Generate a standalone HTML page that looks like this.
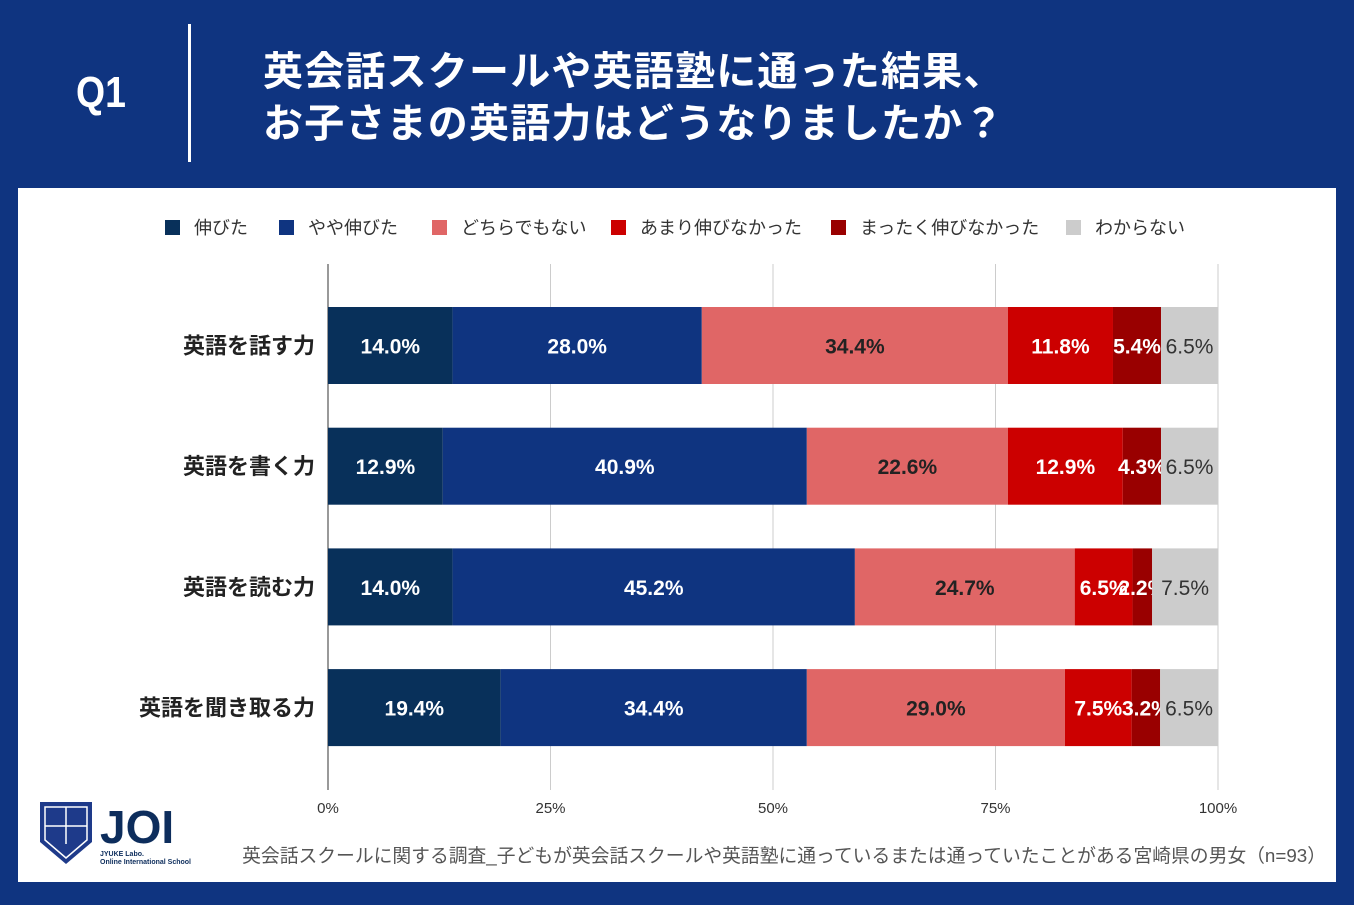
<!DOCTYPE html>
<html><head><meta charset="utf-8">
<style>
body{margin:0;width:1354px;height:905px;background:#0f3480;font-family:"Liberation Sans","Noto Sans CJK JP",sans-serif;overflow:hidden;position:relative}
.q1{position:absolute;left:76px;top:68px;color:#fff;font-size:44px;font-weight:bold;transform:scaleX(0.85);transform-origin:left}
.sep{position:absolute;left:188px;top:24px;width:3px;height:138px;background:#fff}
.title{position:absolute;left:263px;top:42px;color:#fff;font-size:40px;font-weight:bold;line-height:52px;font-family:"Noto Sans CJK JP",sans-serif;letter-spacing:1.2px}
.panel{position:absolute;left:18px;top:188px;width:1318px;height:694px;background:#fff}
</style></head><body>
<div class="q1">Q1</div>
<div class="sep"></div>
<div class="title">英会話スクールや英語塾に通った結果、<br>お子さまの英語力はどうなりましたか？</div>
<div class="panel"></div>
<svg id="chart" width="1354" height="905" style="position:absolute;left:0;top:0"></svg>
<script>
const categories=["英語を話す力","英語を書く力","英語を読む力","英語を聞き取る力"];
const seriesNames=["伸びた","やや伸びた","どちらでもない","あまり伸びなかった","まったく伸びなかった","わからない"];
const s1=[14.0,12.9,14.0,19.4];
const s2=[28.0,40.9,45.2,34.4];
const s3=[34.4,22.6,24.7,29.0];
const s4=[11.8,12.9,6.5,7.5];
const s5=[5.4,4.3,2.2,3.2];
const s6=[6.5,6.5,7.5,6.5];
const ticks=[0,25,50,75,100];
const colors=["#08305a","#0f3480","#e06666","#cc0000","#990000","#cccccc"];
const textColors=["#fff","#fff","#222","#fff","#fff","#333"];
const series=[s1,s2,s3,s4,s5,s6];
const NS="http://www.w3.org/2000/svg";
const svg=document.getElementById('chart');
const x0=328,x1=1218;
const xs=v=>x0+(x1-x0)*v/100;
const yBand=i=>307+i*120.7;
const bh=77;
function mk(t,a){const e=document.createElementNS(NS,t);for(const k in a)e.setAttribute(k,a[k]);svg.appendChild(e);return e;}
ticks.forEach((t,i)=>{
 const l=mk('line',{x1:xs(t),x2:xs(t),y1:264,y2:790,stroke:t===0?'#333':'#ccc','stroke-width':1});
 
 
 const tx=mk('text',{x:xs(t),y:813,'text-anchor':'middle','font-size':15,fill:'#333'});
 tx.textContent=t+'%';
 
 
});
const legX=[165,279,432,611,831,1066];
seriesNames.forEach((n,i)=>{
 const r=mk('rect',{x:legX[i],y:220,width:15,height:15,fill:colors[i]});
 
 
 const t=mk('text',{x:legX[i]+29,y:234,'font-size':18,fill:'#333'});
 t.textContent=n;
 
 
});
categories.forEach((c,ci)=>{
 const y=yBand(ci);
 const lab=mk('text',{x:315,y:y+bh/2+8,'text-anchor':'end','font-size':22,'font-weight':'bold',fill:'#222'});
 lab.textContent=c;
 
 
 let cum=0;
 series.forEach((s,si)=>{
  const v=s[ci];const a=xs(cum),b=xs(Math.min(cum+v,100.1));
  const r=mk('rect',{x:a,y:y,width:Math.max(0,Math.min(b,x1)-a),height:bh,fill:colors[si]});
  
  
  const t=mk('text',{x:(a+Math.min(b,x1))/2,y:y+bh/2+8,'text-anchor':'middle','font-size':21,'font-weight':si===5?'normal':'bold',fill:textColors[si]});
  t.textContent=v.toFixed(1)+'%';
  
  
  cum+=v;
 });
});
const fn=mk('text',{x:1326,y:862,'text-anchor':'end','font-size':18.8,fill:'#555'});
fn.textContent='英会話スクールに関する調査_子どもが英会話スクールや英語塾に通っているまたは通っていたことがある宮崎県の男女（n=93）';


</script>
<svg width="160" height="70" style="position:absolute;left:36px;top:798px">
<path d="M4 4 H56 V44 L30 66 L4 44 Z" fill="#1e3a8a"/>
<path d="M9 9 H51 V42 L30 60 L9 42 Z" fill="none" stroke="#fff" stroke-width="1.5"/>
<line x1="30" y1="9" x2="30" y2="46" stroke="#fff" stroke-width="1.5"/>
<line x1="9" y1="28" x2="51" y2="28" stroke="#fff" stroke-width="1.5"/>
<text x="64" y="45" font-size="46" font-weight="bold" fill="#0d2d5c" font-family="Liberation Sans">JOI</text>
<text x="64" y="58" font-size="7" font-weight="bold" fill="#0d2d5c">JYUKE Labo.</text>
<text x="64" y="66" font-size="7" font-weight="bold" fill="#0d2d5c">Online International School</text>
</svg>
</body></html>
